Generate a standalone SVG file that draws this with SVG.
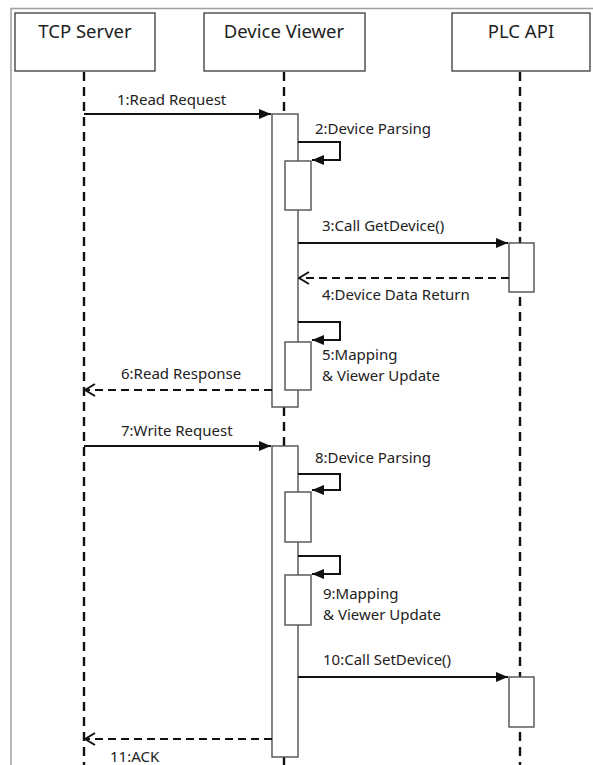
<svg xmlns="http://www.w3.org/2000/svg" width="593" height="765" viewBox="0 0 593 765">
<style>
.hdr{fill:#fff;stroke:#3a3a3a;stroke-width:1.3}
.ht{font-family:"Noto Sans","Open Sans",sans-serif;font-size:18.5px;fill:#222;text-anchor:middle}
.lt{font-family:"Noto Sans","Open Sans",sans-serif;font-size:15px;fill:#222}
.life{stroke:#111;stroke-width:2.4;stroke-dasharray:9,6;fill:none}
.act{fill:#fff;stroke:#505050;stroke-width:1.4}
.msg{stroke:#111;stroke-width:2;fill:none}
.ret{stroke:#111;stroke-width:2;stroke-dasharray:8,5;fill:none}
</style>
<defs>
<marker id="fill" viewBox="0 0 12 10" refX="12" refY="5" markerWidth="12" markerHeight="10" markerUnits="userSpaceOnUse" orient="auto">
<path d="M0,0 L12,5 L0,10 Z" fill="#111"/>
</marker>
<marker id="open" viewBox="0 0 12 14" refX="11" refY="7" markerWidth="12" markerHeight="14" markerUnits="userSpaceOnUse" orient="auto">
<path d="M1,1 L11,7 L1,13" fill="none" stroke="#111" stroke-width="2"/>
</marker>
</defs>
<g id="frame" stroke="#a0a0a0" stroke-width="1.5" fill="none">
<path d="M11,765 L11,8.5 L593,8.5"/>
</g>
<g id="lifelines">
<line class="life" x1="84" y1="72" x2="84" y2="765"/>
<line class="life" x1="284" y1="72" x2="284" y2="114"/>
<line class="life" x1="284" y1="407" x2="284" y2="446"/>
<line class="life" x1="284" y1="757" x2="284" y2="765"/>
<line class="life" x1="520" y1="72" x2="520" y2="765"/>
</g>
<g id="tcp-server"><rect class="hdr" x="15" y="13" width="140" height="58"/><text class="ht" x="85" y="38">TCP Server</text></g>
<g id="device-viewer"><rect class="hdr" x="204" y="13" width="161" height="58"/><text class="ht" x="284" y="38">Device Viewer</text></g>
<g id="plc-api"><rect class="hdr" x="452" y="13" width="138" height="58"/><text class="ht" x="521" y="38">PLC API</text></g>
<g id="activations">
<rect class="act" x="272" y="114" width="26" height="293"/>
<rect class="act" x="285" y="161" width="26" height="49"/>
<rect class="act" x="509" y="243" width="25" height="49"/>
<rect class="act" x="285" y="342" width="26" height="48"/>
<rect class="act" x="272" y="446" width="26" height="311"/>
<rect class="act" x="285" y="492" width="26" height="50"/>
<rect class="act" x="285" y="575" width="26" height="50"/>
<rect class="act" x="509" y="677" width="25" height="50"/>
</g>
<g id="connectors">
<line class="msg" x1="84" y1="114" x2="271" y2="114" marker-end="url(#fill)"/>
<path class="msg" d="M298,142 H340 V160 H312" marker-end="url(#fill)"/>
<line class="msg" x1="298" y1="243" x2="508" y2="243" marker-end="url(#fill)"/>
<line class="ret" x1="509" y1="278" x2="299" y2="278" marker-end="url(#open)"/>
<path class="msg" d="M298,322 H340 V340 H312" marker-end="url(#fill)"/>
<line class="ret" x1="272" y1="390" x2="85" y2="390" marker-end="url(#open)"/>
<line class="msg" x1="84" y1="446" x2="271" y2="446" marker-end="url(#fill)"/>
<path class="msg" d="M298,474 H340 V490 H312" marker-end="url(#fill)"/>
<path class="msg" d="M298,556 H340 V574 H312" marker-end="url(#fill)"/>
<line class="msg" x1="298" y1="677" x2="508" y2="677" marker-end="url(#fill)"/>
<line class="ret" x1="272" y1="739" x2="85" y2="739" marker-end="url(#open)"/>
</g>
<g id="labels">
<text class="lt" x="117" y="105">1:Read Request</text>
<text class="lt" x="315" y="134">2:Device Parsing</text>
<text class="lt" x="322" y="231">3:Call GetDevice()</text>
<text class="lt" x="322" y="300">4:Device Data Return</text>
<text class="lt" x="322" y="360">5:Mapping</text>
<text class="lt" x="322" y="381">&amp; Viewer Update</text>
<text class="lt" x="121" y="379">6:Read Response</text>
<text class="lt" x="121" y="436">7:Write Request</text>
<text class="lt" x="315" y="463">8:Device Parsing</text>
<text class="lt" x="323" y="599">9:Mapping</text>
<text class="lt" x="323" y="620">&amp; Viewer Update</text>
<text class="lt" x="323" y="665">10:Call SetDevice()</text>
<text class="lt" x="110" y="762">11:ACK</text>
</g>
</svg>
